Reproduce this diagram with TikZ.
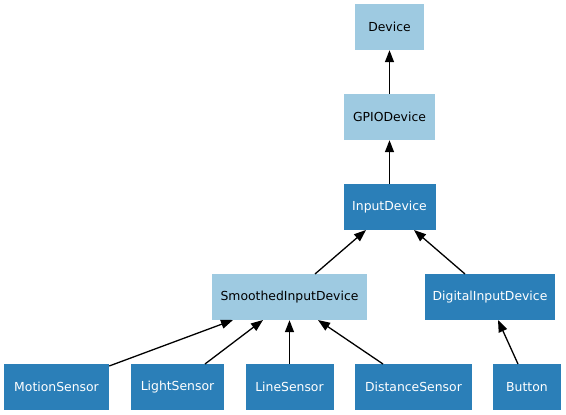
\documentclass[tikz,border=0pt]{standalone}
\usepackage{fontspec}
\setmainfont{DejaVu Sans}
\usetikzlibrary{arrows.meta}
\definecolor{lightb}{HTML}{9ECAE1}
\definecolor{darkb}{HTML}{2B7FB8}
\tikzset{
  box/.style={rectangle, inner sep=0pt, minimum height=46pt, font=\fontsize{12.4}{14}\selectfont},
  lightbox/.style={box, fill=lightb, text=black},
  darkbox/.style={box, fill=darkb, text=white},
  edge/.style={line width=1.3pt, -{Triangle[length=12pt,width=9pt]}}
}
\begin{document}
\begin{tikzpicture}[x=1pt,y=-1pt]
\useasboundingbox (0,0) rectangle (566,415);
\node[lightbox, minimum width=69pt] (dev) at (389.5,27) {Device};
\node[lightbox, minimum width=91pt] (gpio) at (389.5,117) {GPIODevice};
\node[darkbox, minimum width=92pt] (input) at (389.5,207) {InputDevice};
\node[lightbox, minimum width=155pt] (smooth) at (289.5,297) {SmoothedInputDevice};
\node[darkbox, minimum width=130pt] (digital) at (490,297) {DigitalInputDevice};
\node[darkbox, minimum width=105pt] (motion) at (56.5,387) {MotionSensor};
\node[darkbox, minimum width=93pt] (light) at (177.5,387) {LightSensor};
\node[darkbox, minimum width=88pt] (line) at (289.5,387) {LineSensor};
\node[darkbox, minimum width=117pt] (dist) at (413.5,387) {DistanceSensor};
\node[darkbox, minimum width=68pt] (button) at (527,387) {Button};
\draw[edge] (gpio) -- (dev);
\draw[edge] (input) -- (gpio);
\draw[edge] (315,274) -- (366,230);
\draw[edge] (465,274) -- (414,230);
\draw[edge] (motion.east |- 0,366) -- (233,320);
\draw[edge] (205,364) -- (263,320);
\draw[edge] (line) -- (smooth);
\draw[edge] (383,364) -- (318,320);
\draw[edge] (518,364) -- (498,320);
\end{tikzpicture}
\end{document}
